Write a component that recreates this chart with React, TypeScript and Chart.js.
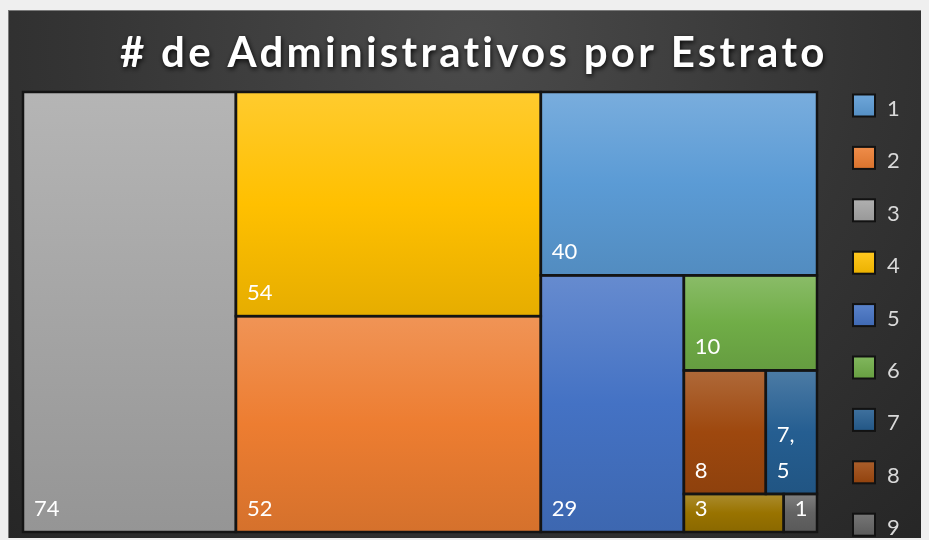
import React, { useEffect, useRef } from 'react';
import { Chart, registerables } from 'chart.js';

Chart.register(...registerables);

const TITLE = '# de Administrativos por Estrato';
const CATEGORIES = ['1', '2', '3', '4', '5', '6', '7', '8', '9', '10'];
const VALUES = [40, 52, 74, 54, 29, 10, 5, 8, 1, 3];
const DATA_LABELS = ['40', '52', '74', '54', '29', '10', '7, 5', '8', '1', '3'];
const COLORS = ['#5B9BD5', '#ED7D31', '#A5A5A5', '#FFC000', '#4472C4', '#70AD47', '#255E91', '#9E480E', '#636363', '#997300'];
// treemap data space: width LAYOUT_W, height 1
const LAYOUT_W = 2.16;

type Cell = { i: number; x: number; y: number; w: number; h: number };

function squarify(values: number[], W: number, H: number): Cell[] {
  const order = values.map((_, i) => i).sort((a, b) => values[b] - values[a]);
  const total = values.reduce((s, v) => s + v, 0);
  const areas = order.map((i) => (values[i] / total) * W * H);
  const cells: Cell[] = [];
  let x = 0, y = 0, w = W, h = H, k = 0;
  const worst = (row: number[], side: number) => {
    const s = row.reduce((a, b) => a + b, 0);
    const mx = Math.max(...row), mn = Math.min(...row);
    return Math.max((side * side * mx) / (s * s), (s * s) / (side * side * mn));
  };
  while (k < order.length) {
    const side = Math.min(w, h);
    const row = [areas[k]];
    let j = k + 1;
    while (j < order.length && worst([...row, areas[j]], side) <= worst(row, side)) {
      row.push(areas[j]);
      j++;
    }
    const s = row.reduce((a, b) => a + b, 0);
    if (w >= h) {
      const cw = s / h;
      let cy = y;
      row.forEach((a, n) => {
        const ch = a / cw;
        cells.push({ i: order[k + n], x, y: cy, w: cw, h: ch });
        cy += ch;
      });
      x += cw; w -= cw;
    } else {
      const rh = s / w;
      let cx = x;
      row.forEach((a, n) => {
        const cw = a / rh;
        cells.push({ i: order[k + n], x: cx, y, w: cw, h: rh });
        cx += cw;
      });
      y += rh; h -= rh;
    }
    k = j;
  }
  return cells;
}

function mix(hex: string, target: number, t: number): string {
  const n = parseInt(hex.slice(1), 16);
  const r = (n >> 16) & 255, g = (n >> 8) & 255, b = n & 255;
  const f = (c: number) => Math.round(c + (target - c) * t);
  return `rgb(${f(r)},${f(g)},${f(b)})`;
}

const treemapPlugin = {
  id: 'treemapDraw',
  beforeDraw(chart: any) {
    const ctx = chart.ctx as CanvasRenderingContext2D;
    const W = chart.width, H = chart.height;
    ctx.save();
    const g = ctx.createRadialGradient(462, 30, 0, 462, 30, 720);
    g.addColorStop(0, '#4b4b4b');
    g.addColorStop(0.55, '#343434');
    g.addColorStop(1, '#242424');
    ctx.fillStyle = g;
    ctx.fillRect(0, 0, W, H);
    ctx.strokeStyle = '#7a7a7a';
    ctx.lineWidth = 1;
    ctx.strokeRect(0.5, 0.5, W - 1, H - 1);
    ctx.restore();
  },
  afterDraw(chart: any) {
    const ctx = chart.ctx as CanvasRenderingContext2D;
    const xs = chart.scales.x, ys = chart.scales.y;
    const cells = squarify(VALUES, LAYOUT_W, 1);
    ctx.save();
    // cells
    cells.forEach((c) => {
      const l = xs.getPixelForValue(c.x), r = xs.getPixelForValue(c.x + c.w);
      const t = ys.getPixelForValue(c.y), b = ys.getPixelForValue(c.y + c.h);
      const col = COLORS[c.i];
      const g = ctx.createLinearGradient(0, t, 0, b);
      g.addColorStop(0, mix(col, 255, 0.18));
      g.addColorStop(0.5, col);
      g.addColorStop(1, mix(col, 0, 0.1));
      ctx.fillStyle = g;
      ctx.fillRect(l, t, r - l, b - t);
    });
    ctx.strokeStyle = '#141414';
    ctx.lineWidth = 2.5;
    cells.forEach((c) => {
      const l = xs.getPixelForValue(c.x), r = xs.getPixelForValue(c.x + c.w);
      const t = ys.getPixelForValue(c.y), b = ys.getPixelForValue(c.y + c.h);
      ctx.strokeRect(l, t, r - l, b - t);
    });
    // labels
    ctx.font = '22px Lato';
    ctx.fillStyle = '#ffffff';
    ctx.textAlign = 'left';
    ctx.textBaseline = 'alphabetic';
    cells.forEach((c) => {
      const l = xs.getPixelForValue(c.x), r = xs.getPixelForValue(c.x + c.w);
      const b = ys.getPixelForValue(c.y + c.h);
      const text = DATA_LABELS[c.i];
      const avail = r - l - 22;
      let lines = [text];
      if (ctx.measureText(text).width > avail) lines = text.split(' ');
      lines.forEach((ln, n) => {
        const yy = b - 16 - (lines.length - 1 - n) * 36;
        ctx.fillText(ln, l + 11, yy);
      });
    });
    // legend
    CATEGORIES.forEach((cat, i) => {
      const cy = 95.5 + i * 52.4;
      const g = ctx.createLinearGradient(0, cy - 11, 0, cy + 11);
      g.addColorStop(0, mix(COLORS[i], 255, 0.12));
      g.addColorStop(1, mix(COLORS[i], 0, 0.08));
      ctx.fillStyle = g;
      ctx.fillRect(845, cy - 11, 22, 22);
      ctx.strokeStyle = '#121212';
      ctx.lineWidth = 2;
      ctx.strokeRect(845, cy - 11, 22, 22);
      ctx.fillStyle = '#d9d9d9';
      ctx.font = '22px Lato';
      ctx.fillText(cat, 879, cy + 10.5);
    });
    // title
    ctx.font = 'bold 42px Lato';
    const w0 = ctx.measureText(TITLE).width;
    const targetW = 705;
    const ls = (targetW - w0) / (TITLE.length - 1);
    (ctx as any).letterSpacing = `${ls}px`;
    ctx.shadowColor = 'rgba(0,0,0,0.85)';
    ctx.shadowBlur = 5;
    ctx.shadowOffsetX = 1;
    ctx.shadowOffsetY = 2;
    ctx.fillStyle = '#ffffff';
    ctx.fillText(TITLE, 112, 57);
    ctx.restore();
  },
};

export default function App() {
  const ref = useRef<HTMLCanvasElement | null>(null);
  useEffect(() => {
    document.documentElement.style.overflow = 'hidden';
    document.body.style.overflow = 'hidden';
    document.body.style.background = '#efefef';
    const canvas = ref.current!;
    const chart = new Chart(canvas, {
      type: 'scatter',
      data: {
        datasets: CATEGORIES.map((c, i) => ({
          label: c,
          data: [],
          backgroundColor: COLORS[i],
        })),
      },
      options: {
        responsive: false,
        animation: false,
        devicePixelRatio: 1,
        layout: { padding: { left: 15, top: 82, right: 191, bottom: 78 } },
        scales: {
          x: { type: 'linear', min: 0, max: LAYOUT_W, display: false },
          y: { type: 'linear', min: 0, max: 1, reverse: true, display: false },
        },
        plugins: {
          legend: { display: false },
          title: { display: false },
          tooltip: { enabled: false },
        },
      },
      plugins: [treemapPlugin],
    } as any);
    return () => chart.destroy();
  }, []);
  return (
    <div style={{ position: 'relative', top: 2, width: 921, height: 530, overflow: 'hidden' }}>
      <canvas ref={ref} width={1000} height={600} style={{ display: 'block' }} />
    </div>
  );
}
